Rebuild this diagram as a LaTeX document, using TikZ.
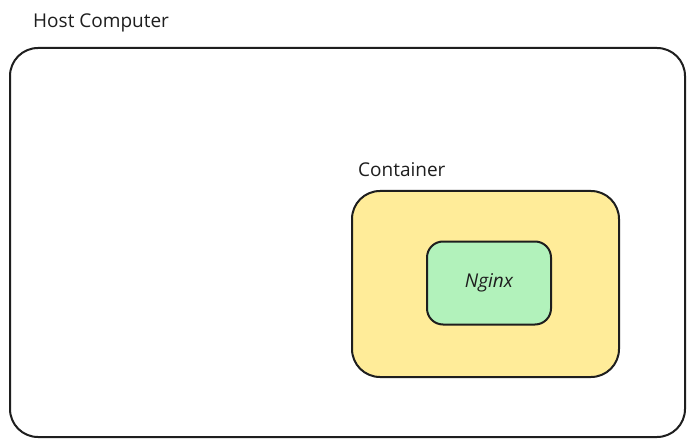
\documentclass[tikz,border=0pt]{standalone}
\usepackage{fontspec}
\setmainfont{Open Sans}
\definecolor{contfill}{HTML}{FFEC99}
\definecolor{nginxfill}{HTML}{B2F2BB}
\definecolor{inkc}{HTML}{1E1E1E}
\begin{document}
\begin{tikzpicture}[x=1pt,y=-1pt,
  boxstyle/.style={draw=inkc, line width=2pt, rounded corners=#1},
  lbl/.style={font=\fontsize{19}{22}\selectfont, text=inkc, anchor=base west, inner sep=0pt}]
\useasboundingbox[fill=white] (0,0) rectangle (695,446);
\draw[boxstyle=28pt] (10,48) rectangle (685,437);
\node[lbl] (hostlbl) at (33,28) {Host Computer};
\draw[boxstyle=28pt, fill=contfill] (352,191) rectangle (619,377);
\node[lbl] (contlbl) at (358,177) {Container};
\node[boxstyle=16pt, fill=nginxfill, minimum width=124pt, minimum height=83pt, inner sep=0pt,
  font=\fontsize{19}{22}\selectfont\itshape, text=inkc] (nginx) at (489,283) {Nginx};
\end{tikzpicture}
\end{document}
